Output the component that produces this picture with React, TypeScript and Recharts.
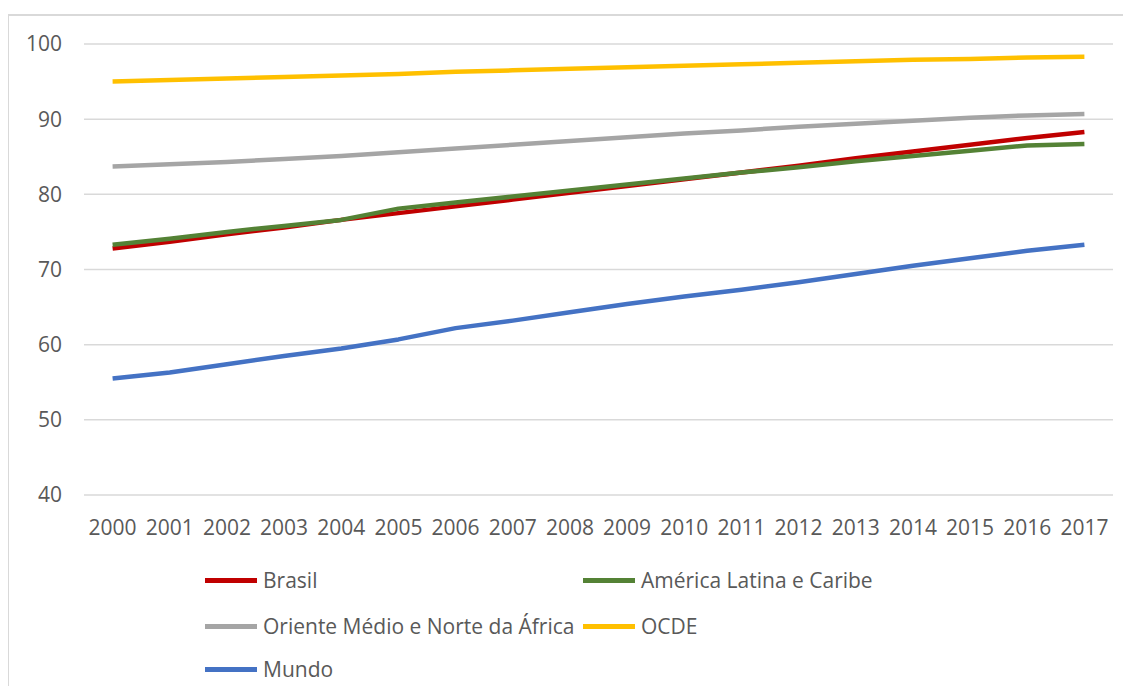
import React from "react";
import { LineChart, Line, XAxis, YAxis, CartesianGrid, Legend } from "recharts";

const years = ["2000","2001","2002","2003","2004","2005","2006","2007","2008","2009","2010","2011","2012","2013","2014","2015","2016","2017"];
const brasil = [72.8, 73.7, 74.7, 75.6, 76.6, 77.5, 78.4, 79.3, 80.2, 81.1, 82.0, 82.9, 83.8, 84.8, 85.7, 86.6, 87.5, 88.3];
const americaLatina = [73.3, 74.1, 75.0, 75.8, 76.6, 78.1, 78.9, 79.7, 80.5, 81.3, 82.1, 82.9, 83.6, 84.4, 85.1, 85.8, 86.5, 86.7];
const orienteMedio = [83.7, 84.0, 84.3, 84.7, 85.1, 85.6, 86.1, 86.6, 87.1, 87.6, 88.1, 88.5, 89.0, 89.4, 89.8, 90.2, 90.5, 90.7];
const ocde = [95.0, 95.2, 95.4, 95.6, 95.8, 96.0, 96.3, 96.5, 96.7, 96.9, 97.1, 97.3, 97.5, 97.7, 97.9, 98.0, 98.2, 98.3];
const mundo = [55.5, 56.3, 57.4, 58.5, 59.5, 60.7, 62.2, 63.2, 64.3, 65.4, 66.4, 67.3, 68.3, 69.4, 70.5, 71.5, 72.5, 73.3];
const yTicks = [40, 50, 60, 70, 80, 90, 100];

const series = [
  { key: "brasil", name: "Brasil", color: "#C00000", values: brasil },
  { key: "alc", name: "América Latina e Caribe", color: "#548235", values: americaLatina },
  { key: "omna", name: "Oriente Médio e Norte da África", color: "#A5A5A5", values: orienteMedio },
  { key: "ocde", name: "OCDE", color: "#FFC000", values: ocde },
  { key: "mundo", name: "Mundo", color: "#4472C4", values: mundo },
];

const data = years.map((y, i) => {
  const row: Record<string, any> = { year: y };
  series.forEach((s) => (row[s.key] = s.values[i]));
  return row;
});

const FONT = "'Open Sans', sans-serif";
const TEXT = "#595959";

const LegendContent = () => {
  const cols = [197, 575];
  const rows = [572, 618, 661];
  return (
    <div style={{ position: "relative", width: 1123, height: 0 }}>
      {series.map((s, i) => {
        const left = cols[i % 2];
        const top = rows[Math.floor(i / 2)];
        return (
          <div key={s.key} style={{ position: "absolute", left, top: top - 15, height: 30, display: "flex", alignItems: "center", whiteSpace: "nowrap" }}>
            <div style={{ width: 52, height: 5, background: s.color }} />
            <span style={{ marginLeft: 6, fontFamily: FONT, fontSize: 21, color: TEXT }}>{s.name}</span>
          </div>
        );
      })}
    </div>
  );
};

export default function App() {
  return (
    <div style={{ position: "relative", width: 1123, height: 678, overflow: "hidden" }}>
      <div style={{ position: "absolute", left: -1, top: 6, width: 1300, height: 900, border: "2px solid #D9D9D9", boxSizing: "border-box" }} />
      <div style={{ position: "absolute", left: 0, top: 0 }}>
        <LineChart width={1123} height={678} data={data} margin={{ top: 36, right: 18, left: 0, bottom: 151 }}>
          <CartesianGrid vertical={false} stroke="#D9D9D9" strokeWidth={1.5} />
          <XAxis
            dataKey="year"
            axisLine={false}
            tickLine={false}
            tickSize={0}
            tickMargin={25}
            height={40}
            interval={0}
            padding={{ left: 28.6, right: 28.6 }}
            tick={{ fill: TEXT, fontSize: 21, fontFamily: FONT }}
          />
          <YAxis
            domain={[40, 100]}
            ticks={yTicks}
            axisLine={false}
            tickLine={false}
            tickSize={0}
            tickMargin={22}
            width={76}
            tick={{ fill: TEXT, fontSize: 21, fontFamily: FONT }}
          />
          <Legend content={<LegendContent />} wrapperStyle={{ position: "absolute", top: 0, left: 0, width: 1123, height: 0 }} />
          {series.map((s) => (
            <Line
              key={s.key}
              type="linear"
              dataKey={s.key}
              name={s.name}
              stroke={s.color}
              strokeWidth={4.5}
              dot={false}
              activeDot={false}
              isAnimationActive={false}
              strokeLinejoin="round"
            />
          ))}
        </LineChart>
      </div>
    </div>
  );
}
